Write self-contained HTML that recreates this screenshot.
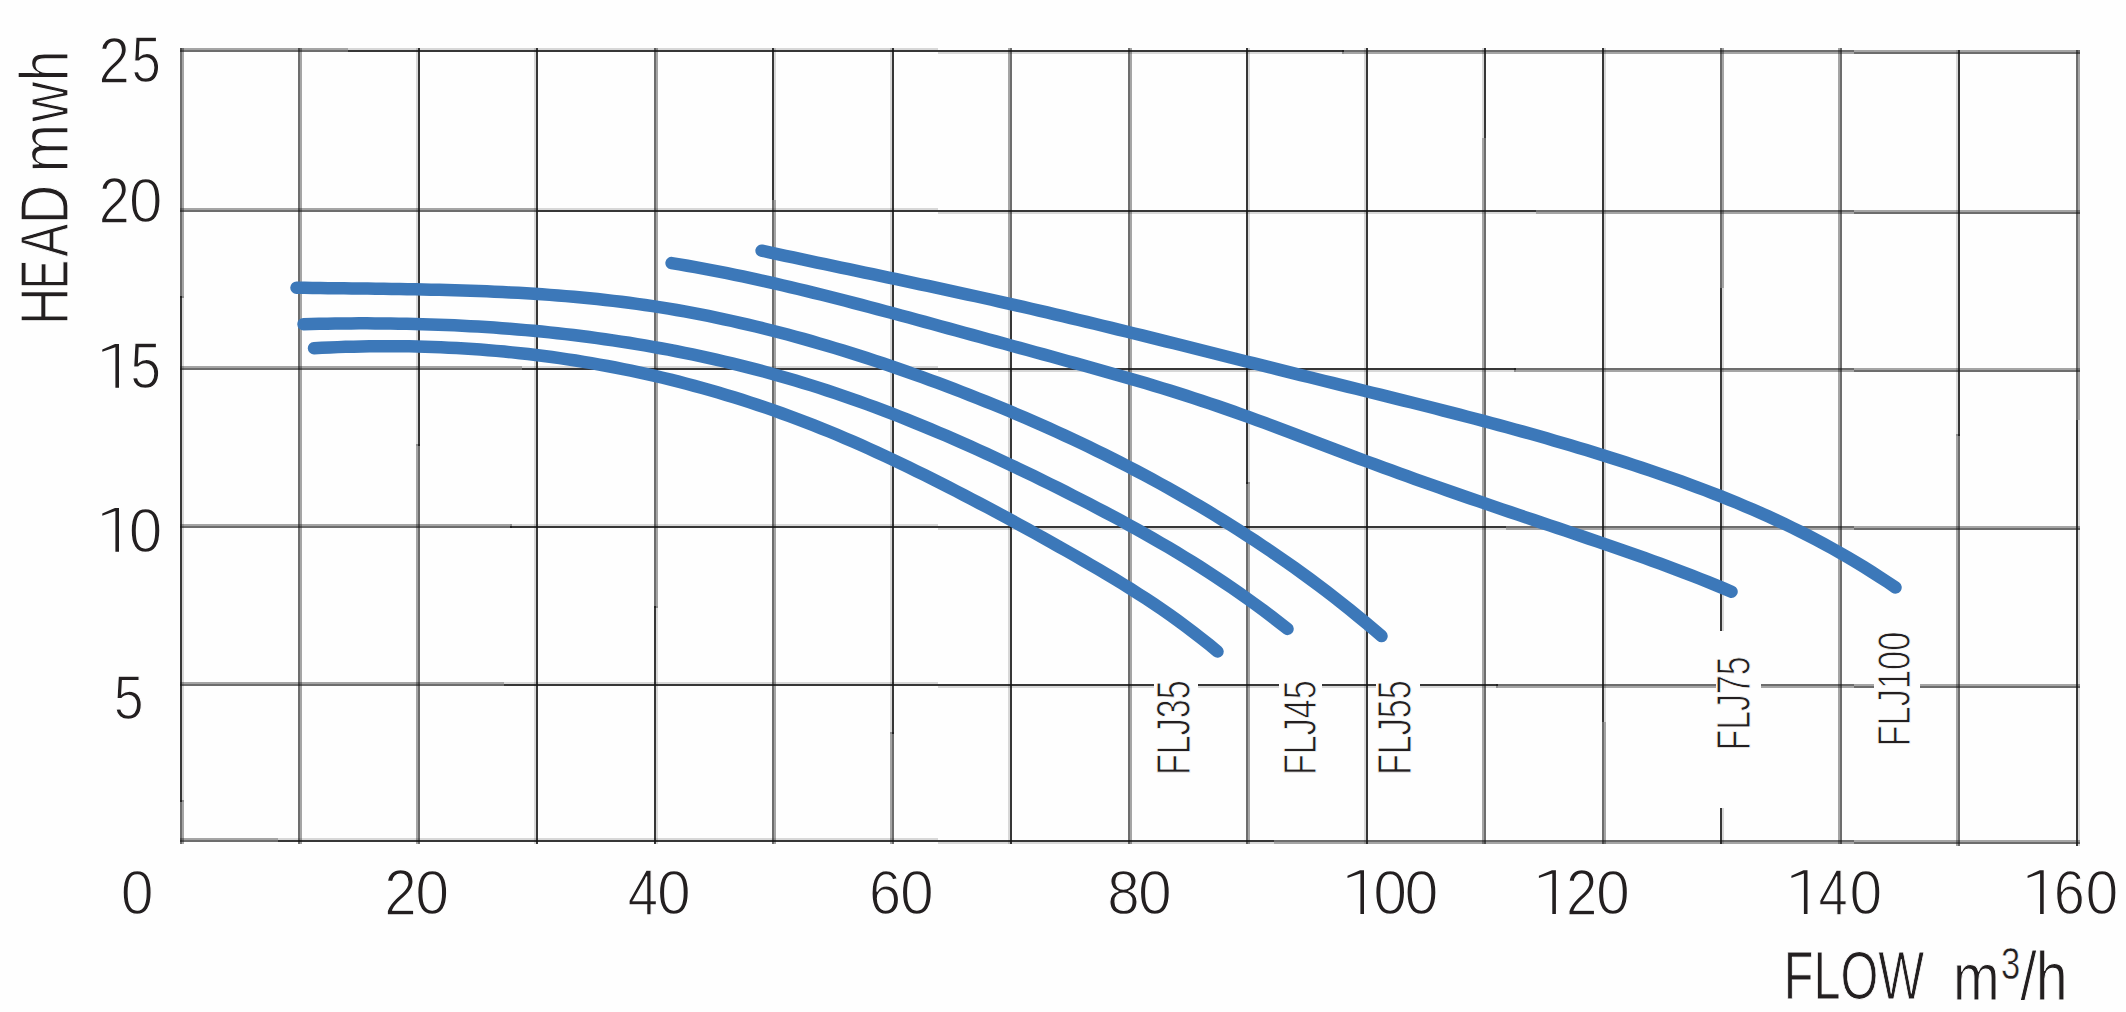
<!DOCTYPE html>
<html><head><meta charset="utf-8"><title>Pump curves</title>
<style>html,body{margin:0;padding:0;background:#fff;}svg{display:block;}</style></head>
<body><svg width="2126" height="1012" viewBox="0 0 2126 1012">
<rect width="2126" height="1012" fill="#fefefe"/>
<g shape-rendering="crispEdges" fill="#141414">
<rect x="180" y="50" width="168" height="2" fill-opacity="0.62"/>
<rect x="180" y="48" width="168" height="2" fill-opacity="0.38"/>
<rect x="348" y="50" width="590" height="2" fill-opacity="0.85"/>
<rect x="348" y="48" width="590" height="2" fill-opacity="0.16"/>
<rect x="938" y="50" width="406" height="2" fill-opacity="0.85"/>
<rect x="938" y="52" width="406" height="2" fill-opacity="0.16"/>
<rect x="1342" y="50" width="512" height="2" fill-opacity="0.62"/>
<rect x="1342" y="52" width="512" height="2" fill-opacity="0.38"/>
<rect x="1854" y="52" width="226" height="2" fill-opacity="0.62"/>
<rect x="1854" y="50" width="226" height="2" fill-opacity="0.38"/>
<rect x="180" y="210" width="358" height="2" fill-opacity="0.62"/>
<rect x="180" y="208" width="358" height="2" fill-opacity="0.38"/>
<rect x="538" y="210" width="400" height="2" fill-opacity="0.85"/>
<rect x="538" y="208" width="400" height="2" fill-opacity="0.16"/>
<rect x="938" y="210" width="598" height="2" fill-opacity="0.85"/>
<rect x="938" y="212" width="598" height="2" fill-opacity="0.16"/>
<rect x="1536" y="210" width="318" height="2" fill-opacity="0.62"/>
<rect x="1536" y="212" width="318" height="2" fill-opacity="0.38"/>
<rect x="1854" y="212" width="226" height="2" fill-opacity="0.62"/>
<rect x="1854" y="210" width="226" height="2" fill-opacity="0.38"/>
<rect x="180" y="368" width="342" height="2" fill-opacity="0.62"/>
<rect x="180" y="366" width="342" height="2" fill-opacity="0.38"/>
<rect x="522" y="368" width="416" height="2" fill-opacity="0.85"/>
<rect x="522" y="366" width="416" height="2" fill-opacity="0.16"/>
<rect x="938" y="368" width="578" height="2" fill-opacity="0.85"/>
<rect x="938" y="370" width="578" height="2" fill-opacity="0.16"/>
<rect x="1514" y="368" width="340" height="2" fill-opacity="0.62"/>
<rect x="1514" y="370" width="340" height="2" fill-opacity="0.38"/>
<rect x="1854" y="370" width="226" height="2" fill-opacity="0.62"/>
<rect x="1854" y="368" width="226" height="2" fill-opacity="0.38"/>
<rect x="180" y="526" width="332" height="2" fill-opacity="0.62"/>
<rect x="180" y="524" width="332" height="2" fill-opacity="0.38"/>
<rect x="510" y="526" width="428" height="2" fill-opacity="0.85"/>
<rect x="510" y="524" width="428" height="2" fill-opacity="0.16"/>
<rect x="938" y="526" width="568" height="2" fill-opacity="0.85"/>
<rect x="938" y="528" width="568" height="2" fill-opacity="0.16"/>
<rect x="1506" y="526" width="348" height="2" fill-opacity="0.62"/>
<rect x="1506" y="528" width="348" height="2" fill-opacity="0.38"/>
<rect x="1854" y="528" width="226" height="2" fill-opacity="0.62"/>
<rect x="1854" y="526" width="226" height="2" fill-opacity="0.38"/>
<rect x="180" y="684" width="324" height="2" fill-opacity="0.62"/>
<rect x="180" y="682" width="324" height="2" fill-opacity="0.38"/>
<rect x="504" y="684" width="434" height="2" fill-opacity="0.85"/>
<rect x="504" y="682" width="434" height="2" fill-opacity="0.16"/>
<rect x="938" y="684" width="560" height="2" fill-opacity="0.85"/>
<rect x="938" y="686" width="560" height="2" fill-opacity="0.16"/>
<rect x="1496" y="684" width="358" height="2" fill-opacity="0.62"/>
<rect x="1496" y="686" width="358" height="2" fill-opacity="0.38"/>
<rect x="1854" y="686" width="226" height="2" fill-opacity="0.62"/>
<rect x="1854" y="684" width="226" height="2" fill-opacity="0.38"/>
<rect x="180" y="840" width="98" height="2" fill-opacity="0.62"/>
<rect x="180" y="838" width="98" height="2" fill-opacity="0.38"/>
<rect x="278" y="840" width="660" height="2" fill-opacity="0.85"/>
<rect x="278" y="838" width="660" height="2" fill-opacity="0.16"/>
<rect x="938" y="840" width="336" height="2" fill-opacity="0.85"/>
<rect x="938" y="842" width="336" height="2" fill-opacity="0.16"/>
<rect x="1274" y="840" width="580" height="2" fill-opacity="0.62"/>
<rect x="1274" y="842" width="580" height="2" fill-opacity="0.38"/>
<rect x="1854" y="842" width="226" height="2" fill-opacity="0.62"/>
<rect x="1854" y="840" width="226" height="2" fill-opacity="0.38"/>
<rect x="180" y="48" width="2" height="250" fill-opacity="0.62"/>
<rect x="182" y="48" width="2" height="250" fill-opacity="0.38"/>
<rect x="180" y="296" width="2" height="506" fill-opacity="0.85"/>
<rect x="182" y="296" width="2" height="506" fill-opacity="0.16"/>
<rect x="180" y="800" width="2" height="44" fill-opacity="0.62"/>
<rect x="182" y="800" width="2" height="44" fill-opacity="0.38"/>
<rect x="298" y="48" width="2" height="796" fill-opacity="0.62"/>
<rect x="300" y="48" width="2" height="796" fill-opacity="0.38"/>
<rect x="418" y="48" width="2" height="398" fill-opacity="0.85"/>
<rect x="416" y="48" width="2" height="398" fill-opacity="0.16"/>
<rect x="418" y="444" width="2" height="400" fill-opacity="0.62"/>
<rect x="416" y="444" width="2" height="400" fill-opacity="0.38"/>
<rect x="536" y="48" width="2" height="796" fill-opacity="0.85"/>
<rect x="534" y="48" width="2" height="796" fill-opacity="0.16"/>
<rect x="654" y="48" width="2" height="560" fill-opacity="0.62"/>
<rect x="656" y="48" width="2" height="560" fill-opacity="0.38"/>
<rect x="654" y="606" width="2" height="238" fill-opacity="0.85"/>
<rect x="656" y="606" width="2" height="238" fill-opacity="0.16"/>
<rect x="772" y="48" width="2" height="152" fill-opacity="0.85"/>
<rect x="774" y="48" width="2" height="152" fill-opacity="0.16"/>
<rect x="772" y="200" width="2" height="644" fill-opacity="0.62"/>
<rect x="774" y="200" width="2" height="644" fill-opacity="0.38"/>
<rect x="892" y="48" width="2" height="686" fill-opacity="0.85"/>
<rect x="890" y="48" width="2" height="686" fill-opacity="0.16"/>
<rect x="892" y="732" width="2" height="112" fill-opacity="0.62"/>
<rect x="890" y="732" width="2" height="112" fill-opacity="0.38"/>
<rect x="1010" y="48" width="2" height="262" fill-opacity="0.62"/>
<rect x="1008" y="48" width="2" height="262" fill-opacity="0.38"/>
<rect x="1010" y="310" width="2" height="534" fill-opacity="0.85"/>
<rect x="1008" y="310" width="2" height="534" fill-opacity="0.16"/>
<rect x="1128" y="48" width="2" height="796" fill-opacity="0.62"/>
<rect x="1130" y="48" width="2" height="796" fill-opacity="0.38"/>
<rect x="1246" y="48" width="2" height="436" fill-opacity="0.85"/>
<rect x="1248" y="48" width="2" height="436" fill-opacity="0.16"/>
<rect x="1246" y="482" width="2" height="362" fill-opacity="0.62"/>
<rect x="1248" y="482" width="2" height="362" fill-opacity="0.38"/>
<rect x="1366" y="48" width="2" height="796" fill-opacity="0.85"/>
<rect x="1364" y="48" width="2" height="796" fill-opacity="0.16"/>
<rect x="1484" y="48" width="2" height="90" fill-opacity="0.85"/>
<rect x="1482" y="48" width="2" height="90" fill-opacity="0.16"/>
<rect x="1484" y="138" width="2" height="706" fill-opacity="0.62"/>
<rect x="1482" y="138" width="2" height="706" fill-opacity="0.38"/>
<rect x="1602" y="48" width="2" height="674" fill-opacity="0.85"/>
<rect x="1604" y="48" width="2" height="674" fill-opacity="0.16"/>
<rect x="1602" y="722" width="2" height="122" fill-opacity="0.62"/>
<rect x="1604" y="722" width="2" height="122" fill-opacity="0.38"/>
<rect x="1720" y="48" width="2" height="240" fill-opacity="0.62"/>
<rect x="1722" y="48" width="2" height="240" fill-opacity="0.38"/>
<rect x="1720" y="288" width="2" height="556" fill-opacity="0.85"/>
<rect x="1722" y="288" width="2" height="556" fill-opacity="0.16"/>
<rect x="1840" y="48" width="2" height="796" fill-opacity="0.62"/>
<rect x="1838" y="48" width="2" height="796" fill-opacity="0.38"/>
<rect x="1958" y="50" width="2" height="386" fill-opacity="0.85"/>
<rect x="1956" y="50" width="2" height="386" fill-opacity="0.16"/>
<rect x="1958" y="434" width="2" height="412" fill-opacity="0.62"/>
<rect x="1956" y="434" width="2" height="412" fill-opacity="0.38"/>
<rect x="2076" y="50" width="2" height="370" fill-opacity="0.62"/>
<rect x="2078" y="50" width="2" height="370" fill-opacity="0.38"/>
<rect x="2076" y="420" width="2" height="426" fill-opacity="0.85"/>
<rect x="2078" y="420" width="2" height="426" fill-opacity="0.16"/>
<rect x="1154" y="664" width="44" height="40" fill="#fefefe"/>
<rect x="1279" y="664" width="43" height="40" fill="#fefefe"/>
<rect x="1376" y="664" width="44" height="40" fill="#fefefe"/>
<rect x="1716" y="631" width="45" height="177" fill="#fefefe"/>
<rect x="1874" y="664" width="46" height="40" fill="#fefefe"/>
</g>
<g>
<path d="M296.5,287.68 L304.4,287.80 L312.3,287.92 L320.3,288.03 L328.2,288.13 L336.1,288.23 L344.0,288.33 L351.9,288.42 L359.9,288.52 L367.8,288.62 L375.7,288.72 L383.6,288.83 L391.5,288.94 L399.5,289.06 L407.4,289.19 L415.3,289.33 L423.2,289.49 L431.1,289.66 L439.1,289.84 L447.0,290.04 L454.9,290.26 L462.8,290.50 L470.7,290.76 L478.7,291.05 L486.6,291.35 L494.5,291.69 L502.4,292.05 L510.3,292.44 L518.3,292.86 L526.2,293.32 L534.1,293.81 L542.0,294.33 L549.9,294.89 L557.9,295.48 L565.8,296.12 L573.7,296.80 L581.6,297.52 L589.5,298.28 L597.4,299.09 L605.4,299.95 L613.3,300.86 L621.2,301.81 L629.1,302.82 L637.0,303.88 L645.0,305.00 L652.9,306.17 L660.8,307.40 L668.7,308.69 L676.6,310.03 L684.6,311.43 L692.5,312.89 L700.4,314.40 L708.3,315.97 L716.2,317.59 L724.2,319.27 L732.1,321.00 L740.0,322.78 L747.9,324.62 L755.8,326.51 L763.8,328.45 L771.7,330.44 L779.6,332.48 L787.5,334.57 L795.4,336.71 L803.4,338.89 L811.3,341.13 L819.2,343.41 L827.1,345.74 L835.0,348.12 L843.0,350.54 L850.9,353.00 L858.8,355.52 L866.7,358.07 L874.6,360.67 L882.6,363.31 L890.5,366.00 L898.4,368.73 L906.3,371.49 L914.2,374.30 L922.2,377.15 L930.1,380.04 L938.0,382.97 L945.9,385.94 L953.8,388.94 L961.8,391.98 L969.7,395.07 L977.6,398.19 L985.5,401.35 L993.4,404.56 L1001.4,407.80 L1009.3,411.10 L1017.2,414.43 L1025.1,417.82 L1033.0,421.25 L1041.0,424.73 L1048.9,428.25 L1056.8,431.83 L1064.7,435.46 L1072.6,439.14 L1080.6,442.88 L1088.5,446.67 L1096.4,450.51 L1104.3,454.41 L1112.2,458.37 L1120.1,462.38 L1128.1,466.46 L1136.0,470.60 L1143.9,474.79 L1151.8,479.06 L1159.7,483.38 L1167.7,487.77 L1175.6,492.22 L1183.5,496.74 L1191.4,501.33 L1199.3,505.99 L1207.3,510.71 L1215.2,515.51 L1223.1,520.38 L1231.0,525.32 L1238.9,530.34 L1246.9,535.43 L1254.8,540.60 L1262.7,545.84 L1270.6,551.17 L1278.5,556.58 L1286.5,562.08 L1294.4,567.67 L1302.3,573.36 L1310.2,579.14 L1318.1,585.03 L1326.1,591.02 L1334.0,597.11 L1341.9,603.32 L1349.8,609.63 L1357.7,616.07 L1365.7,622.62 L1373.6,629.30 L1381.5,636.10" fill="none" stroke="#3c78b9" stroke-width="12.5" stroke-linecap="round" stroke-linejoin="round"/>
<path d="M303.5,324.18 L311.4,323.98 L319.4,323.81 L327.3,323.67 L335.2,323.55 L343.2,323.46 L351.1,323.40 L359.0,323.36 L367.0,323.35 L374.9,323.38 L382.9,323.43 L390.8,323.52 L398.7,323.63 L406.7,323.78 L414.6,323.96 L422.5,324.17 L430.5,324.41 L438.4,324.69 L446.3,325.00 L454.3,325.34 L462.2,325.73 L470.1,326.14 L478.1,326.60 L486.0,327.09 L494.0,327.61 L501.9,328.18 L509.8,328.78 L517.8,329.43 L525.7,330.11 L533.6,330.83 L541.6,331.59 L549.5,332.39 L557.4,333.24 L565.4,334.13 L573.3,335.06 L581.2,336.03 L589.2,337.05 L597.1,338.11 L605.0,339.21 L613.0,340.36 L620.9,341.56 L628.9,342.80 L636.8,344.09 L644.7,345.43 L652.7,346.81 L660.6,348.25 L668.5,349.73 L676.5,351.26 L684.4,352.84 L692.3,354.48 L700.3,356.16 L708.2,357.90 L716.1,359.68 L724.1,361.52 L732.0,363.42 L740.0,365.36 L747.9,367.37 L755.8,369.42 L763.8,371.53 L771.7,373.70 L779.6,375.93 L787.6,378.21 L795.5,380.55 L803.4,382.94 L811.4,385.40 L819.3,387.91 L827.2,390.49 L835.2,393.12 L843.1,395.81 L851.0,398.57 L859.0,401.38 L866.9,404.25 L874.9,407.17 L882.8,410.15 L890.7,413.19 L898.7,416.28 L906.6,419.42 L914.5,422.61 L922.5,425.85 L930.4,429.14 L938.3,432.48 L946.3,435.87 L954.2,439.30 L962.1,442.78 L970.1,446.30 L978.0,449.87 L986.0,453.48 L993.9,457.13 L1001.8,460.82 L1009.8,464.55 L1017.7,468.32 L1025.6,472.13 L1033.6,475.97 L1041.5,479.85 L1049.4,483.76 L1057.4,487.71 L1065.3,491.69 L1073.2,495.70 L1081.2,499.74 L1089.1,503.82 L1097.0,507.94 L1105.0,512.11 L1112.9,516.32 L1120.9,520.58 L1128.8,524.90 L1136.7,529.27 L1144.7,533.72 L1152.6,538.22 L1160.5,542.80 L1168.5,547.46 L1176.4,552.19 L1184.3,557.01 L1192.3,561.91 L1200.2,566.90 L1208.1,571.99 L1216.1,577.17 L1224.0,582.46 L1232.0,587.85 L1239.9,593.36 L1247.8,598.98 L1255.8,604.71 L1263.7,610.57 L1271.6,616.55 L1279.6,622.66 L1287.5,628.91" fill="none" stroke="#3c78b9" stroke-width="12.5" stroke-linecap="round" stroke-linejoin="round"/>
<path d="M314.0,348.23 L321.9,347.82 L329.9,347.45 L337.8,347.13 L345.7,346.86 L353.6,346.63 L361.6,346.45 L369.5,346.31 L377.4,346.23 L385.3,346.19 L393.3,346.20 L401.2,346.26 L409.1,346.36 L417.0,346.52 L425.0,346.73 L432.9,346.98 L440.8,347.29 L448.7,347.64 L456.7,348.05 L464.6,348.51 L472.5,349.02 L480.4,349.58 L488.4,350.20 L496.3,350.87 L504.2,351.59 L512.1,352.37 L520.1,353.19 L528.0,354.08 L535.9,355.02 L543.8,356.01 L551.8,357.06 L559.7,358.16 L567.6,359.32 L575.5,360.54 L583.5,361.82 L591.4,363.15 L599.3,364.54 L607.2,365.98 L615.2,367.49 L623.1,369.05 L631.0,370.68 L638.9,372.36 L646.9,374.10 L654.8,375.91 L662.7,377.77 L670.6,379.69 L678.6,381.68 L686.5,383.73 L694.4,385.84 L702.3,388.01 L710.3,390.24 L718.2,392.54 L726.1,394.90 L734.0,397.33 L742.0,399.81 L749.9,402.37 L757.8,404.99 L765.8,407.67 L773.7,410.42 L781.6,413.24 L789.5,416.12 L797.5,419.07 L805.4,422.08 L813.3,425.17 L821.2,428.32 L829.2,431.54 L837.1,434.83 L845.0,438.18 L852.9,441.60 L860.9,445.09 L868.8,448.63 L876.7,452.23 L884.6,455.89 L892.6,459.61 L900.5,463.37 L908.4,467.19 L916.3,471.05 L924.3,474.95 L932.2,478.90 L940.1,482.89 L948.0,486.92 L956.0,490.98 L963.9,495.08 L971.8,499.21 L979.7,503.37 L987.7,507.57 L995.6,511.80 L1003.5,516.06 L1011.4,520.34 L1019.4,524.66 L1027.3,529.01 L1035.2,533.39 L1043.1,537.79 L1051.1,542.23 L1059.0,546.69 L1066.9,551.17 L1074.8,555.68 L1082.8,560.22 L1090.7,564.81 L1098.6,569.44 L1106.5,574.13 L1114.5,578.89 L1122.4,583.72 L1130.3,588.65 L1138.2,593.68 L1146.2,598.81 L1154.1,604.06 L1162.0,609.45 L1169.9,614.96 L1177.9,620.63 L1185.8,626.46 L1193.7,632.45 L1201.6,638.62 L1209.6,644.97 L1217.5,651.53" fill="none" stroke="#3c78b9" stroke-width="12.5" stroke-linecap="round" stroke-linejoin="round"/>
<path d="M671.6,263.12 L679.5,264.42 L687.4,265.77 L695.3,267.17 L703.2,268.62 L711.1,270.10 L719.1,271.63 L727.0,273.20 L734.9,274.82 L742.8,276.47 L750.7,278.15 L758.6,279.88 L766.5,281.63 L774.4,283.42 L782.3,285.25 L790.2,287.10 L798.2,288.98 L806.1,290.89 L814.0,292.82 L821.9,294.78 L829.8,296.77 L837.7,298.77 L845.6,300.80 L853.5,302.84 L861.4,304.90 L869.3,306.98 L877.3,309.08 L885.2,311.18 L893.1,313.30 L901.0,315.43 L908.9,317.57 L916.8,319.72 L924.7,321.87 L932.6,324.03 L940.5,326.19 L948.4,328.36 L956.3,330.52 L964.3,332.69 L972.2,334.85 L980.1,337.02 L988.0,339.19 L995.9,341.36 L1003.8,343.53 L1011.7,345.70 L1019.6,347.87 L1027.5,350.04 L1035.4,352.22 L1043.4,354.39 L1051.3,356.57 L1059.2,358.75 L1067.1,360.94 L1075.0,363.12 L1082.9,365.31 L1090.8,367.50 L1098.7,369.71 L1106.6,371.93 L1114.5,374.17 L1122.5,376.43 L1130.4,378.71 L1138.3,381.02 L1146.2,383.36 L1154.1,385.73 L1162.0,388.13 L1169.9,390.57 L1177.8,393.05 L1185.7,395.56 L1193.6,398.11 L1201.6,400.71 L1209.5,403.34 L1217.4,406.03 L1225.3,408.75 L1233.2,411.52 L1241.1,414.34 L1249.0,417.18 L1256.9,420.06 L1264.8,422.97 L1272.7,425.90 L1280.6,428.86 L1288.6,431.83 L1296.5,434.82 L1304.4,437.82 L1312.3,440.82 L1320.2,443.83 L1328.1,446.84 L1336.0,449.84 L1343.9,452.84 L1351.8,455.83 L1359.7,458.80 L1367.7,461.75 L1375.6,464.68 L1383.5,467.59 L1391.4,470.49 L1399.3,473.36 L1407.2,476.21 L1415.1,479.05 L1423.0,481.87 L1430.9,484.67 L1438.8,487.46 L1446.8,490.23 L1454.7,493.00 L1462.6,495.74 L1470.5,498.48 L1478.4,501.21 L1486.3,503.92 L1494.2,506.63 L1502.1,509.32 L1510.0,512.01 L1517.9,514.69 L1525.8,517.37 L1533.8,520.04 L1541.7,522.71 L1549.6,525.37 L1557.5,528.03 L1565.4,530.69 L1573.3,533.36 L1581.2,536.03 L1589.1,538.71 L1597.0,541.41 L1604.9,544.12 L1612.9,546.84 L1620.8,549.59 L1628.7,552.36 L1636.6,555.15 L1644.5,557.98 L1652.4,560.83 L1660.3,563.72 L1668.2,566.65 L1676.1,569.61 L1684.0,572.62 L1692.0,575.67 L1699.9,578.77 L1707.8,581.92 L1715.7,585.12 L1723.6,588.38 L1731.5,591.70" fill="none" stroke="#3c78b9" stroke-width="12.5" stroke-linecap="round" stroke-linejoin="round"/>
<path d="M761.6,250.64 L769.5,252.36 L777.5,254.07 L785.4,255.77 L793.3,257.47 L801.2,259.16 L809.2,260.84 L817.1,262.52 L825.0,264.20 L833.0,265.87 L840.9,267.54 L848.8,269.21 L856.8,270.88 L864.7,272.55 L872.6,274.22 L880.5,275.88 L888.5,277.55 L896.4,279.23 L904.3,280.90 L912.3,282.58 L920.2,284.27 L928.1,285.96 L936.0,287.66 L944.0,289.36 L951.9,291.07 L959.8,292.79 L967.8,294.52 L975.7,296.26 L983.6,298.01 L991.6,299.77 L999.5,301.54 L1007.4,303.33 L1015.3,305.13 L1023.3,306.94 L1031.2,308.76 L1039.1,310.60 L1047.1,312.45 L1055.0,314.32 L1062.9,316.19 L1070.8,318.07 L1078.8,319.97 L1086.7,321.87 L1094.6,323.78 L1102.6,325.71 L1110.5,327.64 L1118.4,329.57 L1126.4,331.52 L1134.3,333.47 L1142.2,335.43 L1150.1,337.39 L1158.1,339.36 L1166.0,341.33 L1173.9,343.31 L1181.9,345.29 L1189.8,347.27 L1197.7,349.25 L1205.6,351.24 L1213.6,353.23 L1221.5,355.22 L1229.4,357.21 L1237.4,359.20 L1245.3,361.19 L1253.2,363.18 L1261.2,365.17 L1269.1,367.16 L1277.0,369.14 L1284.9,371.12 L1292.9,373.10 L1300.8,375.07 L1308.7,377.04 L1316.7,379.00 L1324.6,380.96 L1332.5,382.92 L1340.4,384.87 L1348.4,386.83 L1356.3,388.78 L1364.2,390.74 L1372.2,392.70 L1380.1,394.66 L1388.0,396.62 L1395.9,398.59 L1403.9,400.57 L1411.8,402.55 L1419.7,404.54 L1427.7,406.54 L1435.6,408.55 L1443.5,410.58 L1451.5,412.61 L1459.4,414.66 L1467.3,416.72 L1475.2,418.80 L1483.2,420.89 L1491.1,423.00 L1499.0,425.13 L1507.0,427.28 L1514.9,429.45 L1522.8,431.64 L1530.7,433.85 L1538.7,436.08 L1546.6,438.34 L1554.5,440.63 L1562.5,442.94 L1570.4,445.28 L1578.3,447.65 L1586.3,450.04 L1594.2,452.47 L1602.1,454.93 L1610.0,457.42 L1618.0,459.94 L1625.9,462.50 L1633.8,465.09 L1641.8,467.72 L1649.7,470.39 L1657.6,473.09 L1665.5,475.84 L1673.5,478.63 L1681.4,481.46 L1689.3,484.34 L1697.3,487.27 L1705.2,490.26 L1713.1,493.30 L1721.1,496.41 L1729.0,499.58 L1736.9,502.83 L1744.8,506.14 L1752.8,509.53 L1760.7,513.00 L1768.6,516.56 L1776.6,520.19 L1784.5,523.92 L1792.4,527.75 L1800.3,531.66 L1808.3,535.68 L1816.2,539.80 L1824.1,544.03 L1832.1,548.37 L1840.0,552.83 L1847.9,557.40 L1855.9,562.09 L1863.8,566.90 L1871.7,571.84 L1879.6,576.92 L1887.6,582.12 L1895.5,587.47" fill="none" stroke="#3c78b9" stroke-width="12.5" stroke-linecap="round" stroke-linejoin="round"/>
</g>
<g font-family="Liberation Sans, sans-serif" fill="#231f20" stroke="#fefefe">
<text transform="translate(98.48,82.50) scale(0.8670,1)" font-size="64.90" stroke-width="1.40">2</text>
<text transform="translate(131.62,81.85) scale(0.8151,1)" font-size="64.71" stroke-width="1.40">5</text>
<text transform="translate(98.71,222.60) scale(0.8599,1)" font-size="64.90" stroke-width="1.40">2</text>
<text transform="translate(128.94,221.96) scale(0.9424,1)" font-size="63.80" stroke-width="1.40">0</text>
<path d="M119.00,344.00 L119.00,387.80 L115.40,387.80 L115.40,347.22 L102.30,351.80 L102.30,349.50 L115.00,344.00 Z" stroke="none"/>
<text transform="translate(130.28,387.85) scale(0.8583,1)" font-size="64.57" stroke-width="1.40">5</text>
<path d="M119.00,507.90 L119.00,551.80 L115.40,551.80 L115.40,511.12 L102.30,515.70 L102.30,513.40 L115.00,507.90 Z" stroke="none"/>
<text transform="translate(128.82,551.86) scale(0.9458,1)" font-size="63.80" stroke-width="1.40">0</text>
<text transform="translate(113.76,719.36) scale(0.8444,1)" font-size="63.57" stroke-width="1.40">5</text>
<text transform="translate(120.69,914.06) scale(0.9296,1)" font-size="63.52" stroke-width="1.40">0</text>
<text transform="translate(384.25,914.70) scale(0.9030,1)" font-size="64.61" stroke-width="1.40">2</text>
<text transform="translate(415.19,914.06) scale(0.9605,1)" font-size="63.52" stroke-width="1.40">0</text>
<text transform="translate(627.77,914.70) scale(0.8298,1)" font-size="65.55" stroke-width="1.40">4</text>
<text transform="translate(657.00,914.06) scale(0.9571,1)" font-size="63.52" stroke-width="1.40">0</text>
<text transform="translate(869.02,914.06) scale(0.9062,1)" font-size="63.70" stroke-width="1.40">6</text>
<text transform="translate(900.00,914.06) scale(0.9571,1)" font-size="63.52" stroke-width="1.40">0</text>
<text transform="translate(1107.35,914.06) scale(0.9160,1)" font-size="63.70" stroke-width="1.40">8</text>
<text transform="translate(1137.90,914.06) scale(0.9571,1)" font-size="63.52" stroke-width="1.40">0</text>
<path d="M1364.00,870.30 L1364.00,914.00 L1360.40,914.00 L1360.40,873.52 L1347.50,878.10 L1347.50,875.80 L1360.00,870.30 Z" stroke="none"/>
<text transform="translate(1373.20,914.06) scale(0.9571,1)" font-size="63.52" stroke-width="1.40">0</text>
<text transform="translate(1404.49,914.06) scale(0.9605,1)" font-size="63.52" stroke-width="1.40">0</text>
<path d="M1555.90,870.30 L1555.90,914.00 L1552.30,914.00 L1552.30,873.52 L1538.90,878.10 L1538.90,875.80 L1551.90,870.30 Z" stroke="none"/>
<text transform="translate(1565.96,914.70) scale(0.8746,1)" font-size="64.61" stroke-width="1.40">2</text>
<text transform="translate(1595.89,914.06) scale(0.9605,1)" font-size="63.52" stroke-width="1.40">0</text>
<path d="M1807.50,870.30 L1807.50,914.00 L1803.90,914.00 L1803.90,873.52 L1791.40,878.10 L1791.40,875.80 L1803.50,870.30 Z" stroke="none"/>
<text transform="translate(1818.43,914.70) scale(0.8014,1)" font-size="65.55" stroke-width="1.40">4</text>
<text transform="translate(1849.40,914.06) scale(0.9262,1)" font-size="63.52" stroke-width="1.40">0</text>
<path d="M2043.70,870.30 L2043.70,914.00 L2040.10,914.00 L2040.10,873.52 L2027.60,878.10 L2027.60,875.80 L2039.70,870.30 Z" stroke="none"/>
<text transform="translate(2053.73,914.06) scale(0.8776,1)" font-size="63.70" stroke-width="1.40">6</text>
<text transform="translate(2085.49,914.06) scale(0.9296,1)" font-size="63.52" stroke-width="1.40">0</text>
<text transform="translate(68.45,325.12) rotate(-90) scale(0.7524,1)" font-size="68.70" stroke-width="1.30">H</text>
<text transform="translate(68.45,289.24) rotate(-90) scale(0.6417,1)" font-size="68.70" stroke-width="1.30">E</text>
<text transform="translate(68.45,256.87) rotate(-90) scale(0.7237,1)" font-size="68.70" stroke-width="1.30">A</text>
<text transform="translate(68.45,224.17) rotate(-90) scale(0.7919,1)" font-size="68.70" stroke-width="1.30">D</text>
<text transform="translate(68.45,172.78) rotate(-90) scale(0.8564,1)" font-size="68.70" stroke-width="1.30">m</text>
<text transform="translate(68.45,121.93) rotate(-90) scale(0.8154,1)" font-size="68.70" stroke-width="1.30">w</text>
<text transform="translate(68.45,81.31) rotate(-90) scale(0.8077,1)" font-size="68.70" stroke-width="1.30">h</text>
<text transform="translate(1783.75,999.32) scale(0.7112,1)" font-size="68.40" stroke-width="1.00">FLOW</text>
<text transform="translate(1953.05,1000.00) scale(0.8492,1)" font-size="66.00" stroke-width="1.00">m</text>
<text transform="translate(2000.88,979.25) scale(0.7770,1)" font-size="44.51" stroke-width="0.60">3</text>
<text transform="translate(2020.17,1000.00) scale(0.8632,1)" font-size="68.77" stroke-width="1.00">/</text>
<text transform="translate(2035.76,1000.00) scale(0.8347,1)" font-size="68.77" stroke-width="1.00">h</text>
<text transform="translate(1190.43,775.09) rotate(-90) scale(0.7206,1)" font-size="47.32" stroke-width="1.00">FLJ35</text>
<text transform="translate(1315.83,775.09) rotate(-90) scale(0.7324,1)" font-size="46.57" stroke-width="1.00">FLJ45</text>
<text transform="translate(1410.62,775.08) rotate(-90) scale(0.7104,1)" font-size="48.00" stroke-width="1.00">FLJ55</text>
<text transform="translate(1750.42,750.57) rotate(-90) scale(0.7086,1)" font-size="47.86" stroke-width="1.00">FLJ75</text>
<text transform="translate(1910.04,746.53) rotate(-90) scale(0.7412,1)" font-size="46.48" stroke-width="1.00">FLJ100</text>
</g>
</svg></body></html>
